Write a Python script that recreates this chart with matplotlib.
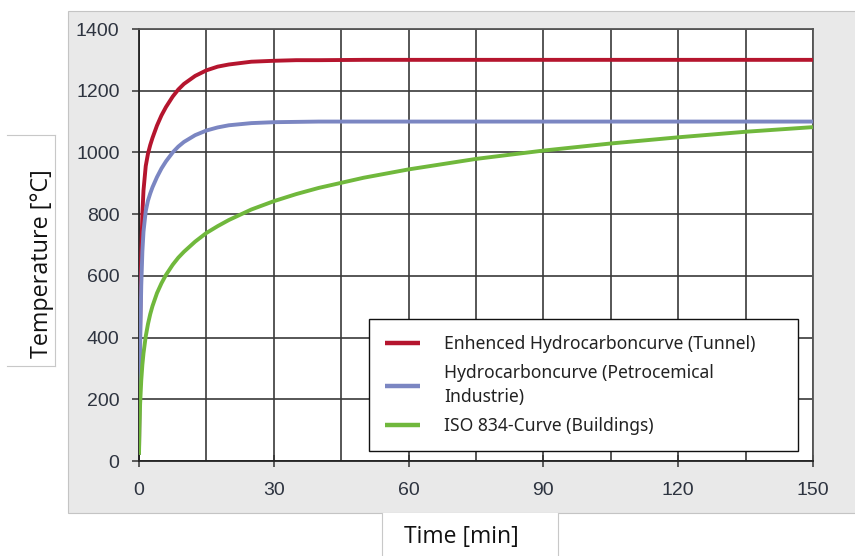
import matplotlib
matplotlib.use("Agg")
import matplotlib.pyplot as plt
from matplotlib.patches import Rectangle
from matplotlib.lines import Line2D
from matplotlib.ticker import MultipleLocator

# ---------------- data ----------------
time_min = [0, 0.1, 0.25, 0.5, 0.75, 1, 1.5, 2, 2.5, 3, 4, 5, 6, 7.5, 8.75, 10, 12.5, 15, 17.5, 20, 25, 30, 35, 40, 50, 60, 75, 90, 105, 120, 135, 150]

temp_tunnel = [20, 218, 439, 670, 801, 877, 956, 996, 1024, 1047, 1087, 1120, 1147, 1181, 1204, 1222, 1248, 1266, 1278, 1285, 1294, 1297, 1299, 1299, 1300, 1300, 1300, 1300, 1300, 1300, 1300, 1300]
temp_petro = [20, 187, 373, 568, 679, 743, 810, 844, 867, 887, 920, 948, 971, 1000, 1019, 1034, 1056, 1071, 1081, 1088, 1095, 1098, 1099, 1100, 1100, 1100, 1100, 1100, 1100, 1100, 1100, 1100]
temp_iso = [20, 108, 185, 261, 312, 349, 404, 444, 476, 502, 544, 576, 603, 636, 659, 678, 711, 739, 761, 781, 815, 842, 865, 885, 918, 945, 979, 1006, 1029, 1049, 1067, 1082]

labels = ["Enhenced Hydrocarboncurve (Tunnel)",
          "Hydrocarboncurve (Petrocemical\nIndustrie)",
          "ISO 834-Curve (Buildings)"]
colors = ["#b5152e", "#7b86c2", "#70b83c"]

x_ticks = [0, 30, 60, 90, 120, 150]
y_ticks = [0, 200, 400, 600, 800, 1000, 1200, 1400]

x_label = "Time [min]"
y_label = "Temperature [°C]"

# ---------------- figure ----------------
W, H = 855, 556
fig = plt.figure(figsize=(W / 100, H / 100), dpi=100)
fig.patch.set_facecolor("white")

def fx(px):
    return px / W

def fy(py):
    return 1 - py / H

# grey panel
fig.patches.append(Rectangle((fx(68), fy(513)), 1 - fx(68) + 0.01, fy(11) - fy(513),
                             transform=fig.transFigure, facecolor="#e9e9e9",
                             edgecolor="#c4c4c4", linewidth=0.8, zorder=0))

# y-label box (white with light border on top/right/bottom)
fig.patches.append(Rectangle((fx(7), fy(366)), fx(55) - fx(7), fy(135) - fy(366),
                             transform=fig.transFigure, facecolor="white",
                             edgecolor="none", zorder=1))
for (xa, ya, xb, yb) in [(7, 135, 55, 135), (55, 135, 55, 366), (7, 366, 55, 366)]:
    fig.lines.append(Line2D([fx(xa), fx(xb)], [fy(ya), fy(yb)], transform=fig.transFigure,
                            color="#c8c8c8", linewidth=0.8, zorder=2))
fig.text(fx(42), fy(264), y_label, rotation=90, ha="center", va="center",
         fontsize=16.8, family="Open Sans", color="#111111", zorder=3)

# x-label box
fig.patches.append(Rectangle((fx(382), 0), fx(558) - fx(382), fy(513),
                             transform=fig.transFigure, facecolor="white",
                             edgecolor="none", zorder=1))
for xa in (382, 558):
    fig.lines.append(Line2D([fx(xa), fx(xa)], [0, fy(513)], transform=fig.transFigure,
                            color="#c8c8c8", linewidth=0.8, zorder=2))
fig.text(fx(461), fy(537), x_label, ha="center", va="center",
         fontsize=16.5, family="Open Sans", color="#111111", zorder=3)

# axes
ax = fig.add_axes([fx(139), fy(461), fx(813) - fx(139), fy(29) - fy(461)])
ax.set_facecolor("white")
ax.set_zorder(2)

for t, c, lab in zip([temp_tunnel, temp_petro, temp_iso], colors, labels):
    ax.plot(time_min, t, color=c, linewidth=2.8, label=lab, solid_capstyle="butt",
            solid_joinstyle="round", zorder=3)

ax.set_xlim(0, 150)
ax.set_ylim(0, 1400)
ax.set_xticks(x_ticks)
ax.set_yticks(y_ticks)
ax.xaxis.set_minor_locator(MultipleLocator(15))
ax.grid(True, which="both", color="#3a3a3a", linewidth=1.2, zorder=1)
ax.set_axisbelow(True)
for s in ax.spines.values():
    s.set_color("#555555")
    s.set_linewidth(1.3)
ax.spines["left"].set_color("#222222")
ax.spines["bottom"].set_color("#222222")

ax.tick_params(axis="y", direction="out", length=5, width=1.1, color="#333333",
               pad=9, labelsize=14, labelcolor="#2e3440")
ax.tick_params(axis="x", direction="inout", length=8, width=1.1, color="#333333",
               pad=11, labelsize=14, labelcolor="#2e3440")
ax.tick_params(which="minor", length=0)
for lab in ax.get_xticklabels() + ax.get_yticklabels():
    lab.set_family("Liberation Sans")

leg = ax.legend(loc="upper left",
                bbox_to_anchor=(fx(369), fy(448), fx(798) - fx(369), fy(319) - fy(448)),
                bbox_transform=fig.transFigure, mode="expand", borderaxespad=0,
                frameon=True, fancybox=False, edgecolor="#111111", framealpha=1,
                prop={"family": "Noto Sans", "size": 12.6},
                handlelength=2.0, handletextpad=1.4, borderpad=0.9, labelspacing=0.62)
leg.get_frame().set_linewidth(1.0)
for line in leg.get_lines():
    line.set_linewidth(3.2)
for txt in leg.get_texts():
    txt.set_color("#222222")
    txt.set_linespacing(1.45)

fig.savefig("out.png", dpi=100, facecolor="white")
